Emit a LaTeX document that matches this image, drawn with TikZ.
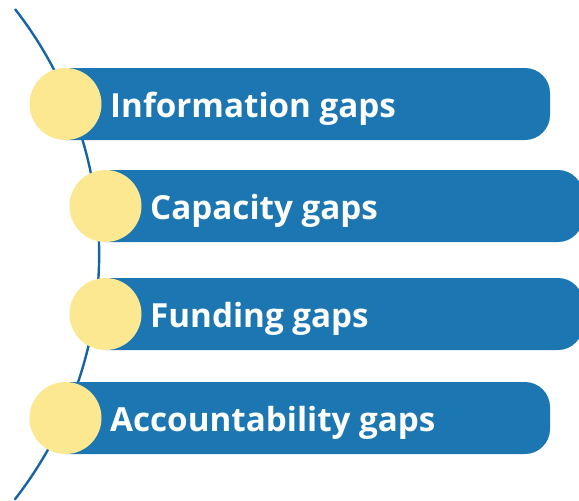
\documentclass[tikz,border=0pt]{standalone}
\usepackage{fontspec}
\newfontfamily\barfont{Open Sans}
\definecolor{barblue}{RGB}{28,118,178}
\definecolor{arcblue}{RGB}{22,100,165}
\definecolor{dotyellow}{RGB}{253,232,146}
\tikzset{
  barfill/.style={fill=barblue},
  dot/.style={circle,fill=dotyellow,minimum size=72pt,inner sep=0pt},
  label/.style={anchor=base west,text=white,font=\barfont\bfseries\fontsize{33.2}{33.2}\selectfont,inner sep=0pt},
}
\newcommand{\gapbar}[3]{% cx, cy, right edge
  \fill[barfill] (#1,#2-36) -- (#3-25,#2-36) arc[start angle=-90,end angle=0,radius=25]
    -- (#3,#2+11) arc[start angle=0,end angle=90,radius=25] -- (#1,#2+36) -- cycle;
}
\begin{document}
\begin{tikzpicture}[x=1pt,y=-1pt]
\useasboundingbox (0,0) rectangle (579,501);
\clip (0,0) rectangle (579,501);
\draw[arcblue,line width=2.4pt] (15,9) arc[start angle=-37.9,end angle=38,radius=399];
\gapbar{65.5}{104}{550}
\gapbar{105.5}{206}{583}
\gapbar{105.5}{314}{583}
\gapbar{65.5}{418}{550}
\node[dot] (c1) at (65.5,104) {};
\node[dot] (c2) at (105.5,206) {};
\node[dot] (c3) at (105.5,314) {};
\node[dot] (c4) at (65.5,418) {};
\node[label] (t1) at (110,117) {Information gaps};
\node[label] (t2) at (150,219) {Capacity gaps};
\node[label] (t3) at (150,327) {Funding gaps};
\node[label] (t4) at (110,431) {Accountability gaps};
\end{tikzpicture}
\end{document}
